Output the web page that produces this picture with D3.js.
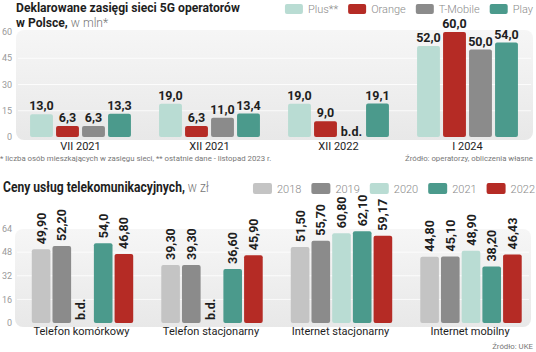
<!DOCTYPE html>
<html>
<head>
<meta charset="utf-8">
<script src="https://cdn.jsdelivr.net/npm/d3@7"></script>
<style>
  body { margin: 0; background: #fff; }
  svg { display: block; font-family: Roboto, 'Open Sans', sans-serif; }
</style>
</head>
<body>
<div id="chart"></div>
<script>
// --- data: 5G coverage, mln people ---
const periods = ['VII 2021', 'XII 2021', 'XII 2022', 'I 2024'];
const operators = ['Plus**', 'Orange', 'T-Mobile', 'Play'];
const plus = [13.0, 19.0, 19.0, 52.0];
const orange = [6.3, 6.3, 9.0, 60.0];
const tmobile = [6.3, 11.0, null, 50.0];
const play = [13.3, 13.4, 19.1, 54.0];
const coverageTicks = [0, 15, 30, 45, 60];

// --- data: telecom prices, zł (as printed) ---
const services = ['Telefon komórkowy', 'Telefon stacjonarny', 'Internet stacjonarny', 'Internet mobilny'];
const years = ['2018', '2019', '2020', '2021', '2022'];
const p2018 = ['49,90', '39,30', '51,50', '44,80'];
const p2019 = ['52,20', '39,30', '55,70', '45,10'];
const p2020 = [null, null, '60,80', '48,90'];
const p2021 = ['54,0', '36,60', '62,10', '38,20'];
const p2022 = ['46,80', '45,90', '59,17', '46,43'];
const priceTicks = [0, 16, 32, 48, 64];

const W = 536, H = 352;
const INK = '#1e1e1e';
const opColors = ['#b9dcd3', '#b52b25', '#8b8b8b', '#4b9a8c'];
const yearColors = ['#c4c4c4', '#8b8b8b', '#b9dcd3', '#4b9a8c', '#b52b25'];

const svg = d3.select('#chart').append('svg').attr('width', W).attr('height', H);

const defs = svg.append('defs');
const grad = defs.append('linearGradient').attr('id', 'bg').attr('x1', 0).attr('y1', 0).attr('x2', 0).attr('y2', 1);
grad.append('stop').attr('offset', '0%').attr('stop-color', '#f6f6f6');
grad.append('stop').attr('offset', '100%').attr('stop-color', '#e8e8e8');

const fmt1 = v => d3.format('.1f')(v).replace('.', ',');
const num = s => s == null ? null : +s.replace(',', '.');

// legend laid out right-to-left so it ends at xEnd
function legend(names, colors, xEnd, y, sw, sh) {
  const g = svg.append('g');
  const items = names.map((n, i) => {
    const t = g.append('text').attr('y', y + sh - 1).style('font-size', '11px')
      .style('font-weight', 300).style('fill', '#8a8a8a').text(n);
    return { t, w: t.node().getComputedTextLength(), c: colors[i] };
  });
  let x = xEnd;
  for (let i = items.length - 1; i >= 0; i--) {
    const it = items[i];
    x -= it.w;
    it.t.attr('x', x);
    x -= 5 + sw;
    g.append('rect').attr('x', x).attr('y', y).attr('width', sw).attr('height', sh)
      .attr('rx', 2).attr('fill', it.c);
    x -= 10;
  }
}

// bold + light title, squeezed horizontally so the bold part has the given width
function title(x, y, bold, light, boldWidth, size) {
  const t = svg.append('text').attr('x', 0).attr('y', 0).style('font-size', size + 'px').style('fill', INK);
  const b = t.append('tspan').style('font-weight', 700).text(bold);
  if (light) t.append('tspan').style('font-weight', 300).style('fill', '#777').text(light);
  const k = boldWidth / b.node().getComputedTextLength();
  t.attr('transform', `translate(${x},${y}) scale(${k},1)`);
  return k;
}

// ================= TOP CHART =================
{
  const g = svg.append('g');
  const y = d3.scaleLinear().domain([0, 60]).range([137, 32]);
  const x0 = d3.scaleBand().domain(periods).range([16, 532]);
  const x1 = d3.scaleBand().domain(operators).range([0, 104]).paddingInner(0.12).paddingOuter(0.06);

  g.append('rect').attr('x', 16).attr('y', 30).attr('width', 517).attr('height', 110)
    .attr('rx', 8).attr('fill', 'url(#bg)');
  g.selectAll('line.grid').data(coverageTicks.slice(1, -1)).join('line')
    .attr('x1', 18).attr('x2', 531).attr('y1', d => y(d)).attr('y2', d => y(d))
    .attr('stroke', '#fff').attr('stroke-opacity', 0.8);
  g.selectAll('text.tick').data(coverageTicks).join('text')
    .attr('x', 12).attr('y', d => y(d)).attr('dy', '0.35em').attr('text-anchor', 'end')
    .style('font-size', '9px').style('fill', '#9a9a9a').text(d => d);

  const series = [plus, orange, tmobile, play];
  periods.forEach((p, i) => {
    const gx = x0(p) + x0.bandwidth() / 2 - 52;
    operators.forEach((op, j) => {
      const v = series[j][i];
      const bx = gx + x1(op);
      const cx = bx + x1.bandwidth() / 2;
      if (v == null) {
        g.append('text').attr('x', cx).attr('y', 136).attr('text-anchor', 'middle')
          .style('font-size', '12.5px').style('font-weight', 700).style('fill', INK).text('b.d.');
        return;
      }
      g.append('rect').attr('x', bx).attr('y', y(v)).attr('width', x1.bandwidth())
        .attr('height', y(0) - y(v)).attr('rx', 2).attr('fill', opColors[j]);
      g.append('text').attr('x', cx).attr('y', y(v) - 4).attr('text-anchor', 'middle')
        .style('font-size', '12.5px').style('font-weight', 700).style('fill', INK).text(fmt1(v));
    });
    g.append('text').attr('x', x0(p) + x0.bandwidth() / 2).attr('y', 150).attr('text-anchor', 'middle')
      .style('font-size', '11px').style('fill', INK).text(p);
  });

  g.append('text').attr('x', 0).attr('y', 161).style('font-size', '7.8px').style('fill', '#777')
    .text('* liczba osób mieszkających w zasięgu sieci, ** ostatnie dane - listopad 2023 r.');
  g.append('text').attr('x', 533).attr('y', 161).attr('text-anchor', 'end').style('font-size', '7.8px')
    .style('fill', '#777').text('Źródło: operatorzy, obliczenia własne');

  const k = title(16, 12, 'Deklarowane zasięgi sieci 5G operatorów', '', 224, 13.5);
  const t2 = svg.append('text').attr('transform', `translate(16,27) scale(${k},1)`)
    .style('font-size', '13.5px').style('fill', INK);
  t2.append('tspan').style('font-weight', 700).text('w Polsce,');
  t2.append('tspan').style('font-weight', 300).style('fill', '#777').text(' w mln*');

  legend(operators, opColors, 533, 4, 18, 10);
}

// ================= BOTTOM CHART =================
{
  const g = svg.append('g');
  const y = d3.scaleLinear().domain([0, 64]).range([323, 228.5]);
  const x0 = d3.scaleBand().domain(services).range([17.75, 535.75]);
  const x1 = d3.scaleBand().domain(years).range([0, 103.5]).paddingInner(0.1).paddingOuter(0.05);

  g.append('rect').attr('x', 15).attr('y', 229).attr('width', 516).attr('height', 98)
    .attr('rx', 8).attr('fill', 'url(#bg)');
  g.selectAll('line.grid').data(priceTicks.slice(1, -1)).join('line')
    .attr('x1', 17).attr('x2', 529).attr('y1', d => y(d)).attr('y2', d => y(d))
    .attr('stroke', '#fff').attr('stroke-opacity', 0.8);
  g.selectAll('text.tick').data(priceTicks).join('text')
    .attr('x', 12).attr('y', d => y(d)).attr('dy', '0.35em').attr('text-anchor', 'end')
    .style('font-size', '9px').style('fill', '#9a9a9a').text(d => d);

  const series = [p2018, p2019, p2020, p2021, p2022];
  services.forEach((s, i) => {
    const gx = x0(s) + x0.bandwidth() / 2 - 51.75;
    years.forEach((yr, j) => {
      const lbl = series[j][i];
      const v = num(lbl);
      const bx = gx + x1(yr);
      const cx = bx + x1.bandwidth() / 2;
      if (v == null) {
        g.append('text').attr('transform', `translate(${cx + 2.5},320) rotate(-90)`)
          .style('font-size', '12.5px').style('font-weight', 700).style('fill', INK).text('b.d.');
        return;
      }
      g.append('rect').attr('x', bx).attr('y', y(v)).attr('width', x1.bandwidth())
        .attr('height', y(0) - y(v)).attr('rx', 2).attr('fill', yearColors[j]);
      g.append('text').attr('transform', `translate(${cx + 4.5},${y(v) - 5}) rotate(-90)`)
        .style('font-size', '12.5px').style('font-weight', 700).style('fill', INK).text(lbl);
    });
    g.append('text').attr('x', x0(s) + x0.bandwidth() / 2 - 1).attr('y', 335).attr('text-anchor', 'middle')
      .style('font-size', '11px').style('fill', INK).text(s);
  });

  g.append('text').attr('x', 533).attr('y', 349).attr('text-anchor', 'end').style('font-size', '7.8px')
    .style('fill', '#777').text('Źródło: UKE');

  title(3, 192, 'Ceny usług telekomunikacyjnych,', ' w zł', 182, 14);
  legend(years, yearColors, 535, 183, 19, 11);
}
</script>
</body>
</html>
